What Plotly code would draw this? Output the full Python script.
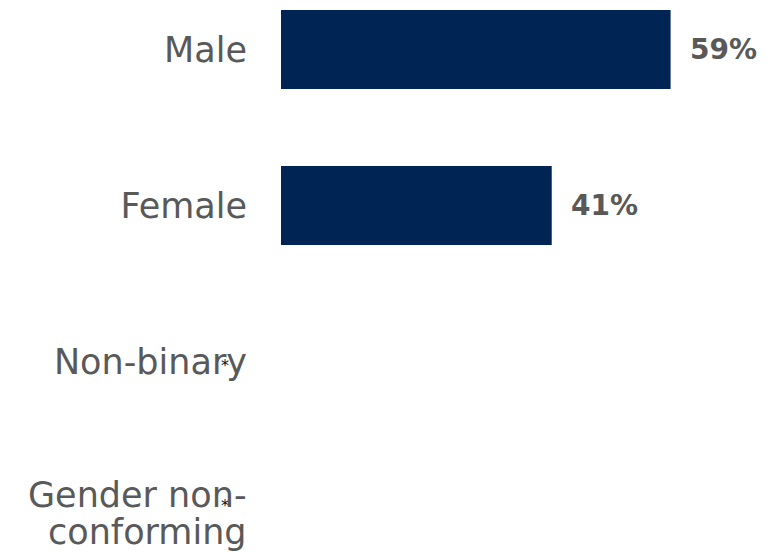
import plotly.graph_objects as go

categories = ["Male", "Female", "Non-binary", "Gender non-conforming"]
tick_text = ["Male", "Female", "Non-binary", ""]
values = [59, 41, 0, 0]
labels = ["59%", "41%", "*", "*"]

label_font = dict(family="DejaVu Sans", size=35, color="#595959")

fig = go.Figure(go.Bar(
    x=values,
    y=categories,
    orientation="h",
    marker=dict(color="#002554", line=dict(width=0)),
    width=0.506,
    hoverinfo="skip",
))

# value labels next to the bars, small asterisk for suppressed values
for cat, val, lab in zip(categories, values, labels):
    if lab == "*":
        fig.add_annotation(x=val, y=cat, text=lab, showarrow=False,
                           xanchor="center", xshift=-56,
                           yshift=-4 if cat == "Non-binary" else 12,
                           font=dict(family="DejaVu Sans", size=16, color="#111111"))
    else:
        fig.add_annotation(x=val, y=cat, text=f"<b>{lab}</b>", showarrow=False,
                           xanchor="left", xshift=17,
                           font=dict(family="DejaVu Sans", size=28, color="#595959"))

# two-line label for the last category, with tighter line spacing
for line, shift in [("Gender non-", 23), ("conforming", -14)]:
    fig.add_annotation(x=0, xref="paper", y=categories[3], text=line, showarrow=False,
                       xanchor="right", xshift=-32, yshift=shift, font=label_font)

fig.update_layout(
    width=759, height=544,
    margin=dict(l=273, r=0, t=0, b=0),
    plot_bgcolor="white",
    paper_bgcolor="white",
    showlegend=False,
    font=dict(family="DejaVu Sans", color="#595959"),
)
fig.update_xaxes(range=[0, 73.6], visible=False, showgrid=False, zeroline=False)
fig.update_yaxes(range=[3.221, -0.266], showgrid=False, zeroline=False, showline=False,
                 tickvals=categories, ticktext=tick_text,
                 ticks="", ticklabelstandoff=33, automargin=False,
                 tickfont=label_font)

fig.write_html("out.html")
